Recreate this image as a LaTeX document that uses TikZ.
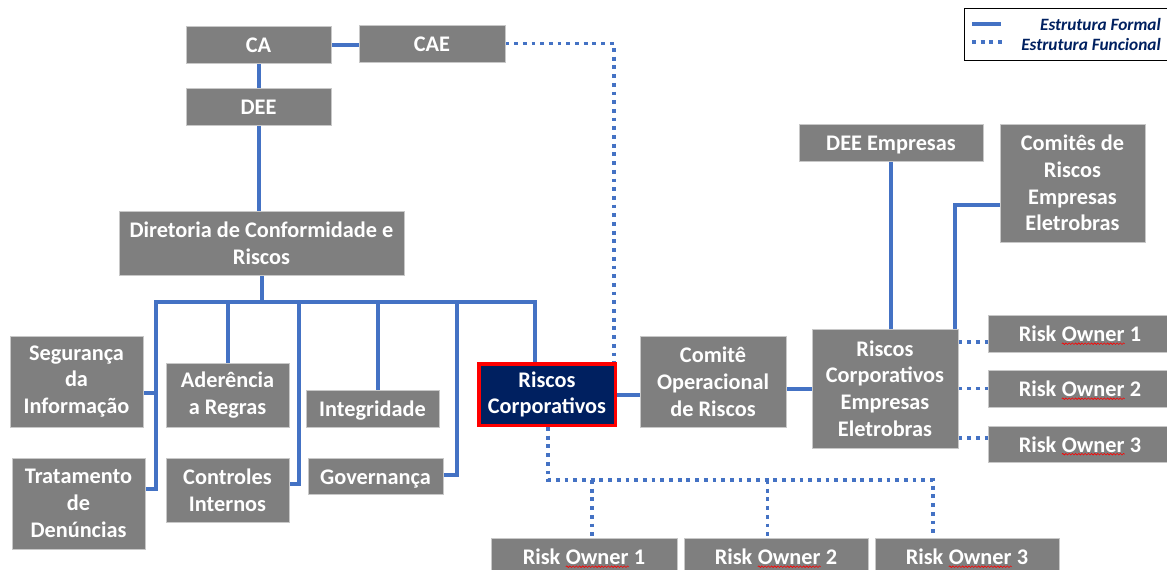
\documentclass[tikz,border=0pt]{standalone}
\usepackage{fontspec}
\setmainfont{Carlito}
\usetikzlibrary{decorations.pathmorphing,backgrounds}
\definecolor{lineblue}{HTML}{4472C4}
\definecolor{boxgray}{HTML}{7F7F7F}
\definecolor{boxedge}{HTML}{C8C8C8}
\definecolor{navy}{HTML}{002060}
\newcommand\squig[1]{\tikz[baseline=(sq.base)]{\node[inner sep=0pt,outer sep=0pt,draw=none,fill=none,minimum width=0pt,minimum height=0pt,text height=,text depth=] (sq) {#1};\draw[red,line width=0.6pt,decorate,decoration={snake,amplitude=0.8pt,segment length=3.2pt}] ([yshift=-2.2pt]sq.base west) -- ([yshift=-2.2pt]sq.base east);}}
\tikzset{
  orgbox/.style={fill=boxgray, draw=boxedge, line width=0.8pt, text=white,
    font=\fontsize{22.3}{26.8}\selectfont\bfseries, align=center, inner sep=1pt},
  oneline/.style={text height=16pt, text depth=0pt},
  hilite/.style={orgbox, fill=navy, draw=red, line width=3.5pt},
  formal/.style={draw=lineblue, line width=4pt},
  functional/.style={draw=lineblue, line width=3.5pt, dash pattern=on 3.8pt off 4.9pt},
  legtext/.style={text=navy, font=\fontsize{17.3}{20}\selectfont\bfseries\itshape, inner sep=0pt},
}
\begin{document}
\begin{tikzpicture}[x=1pt,y=-1pt]
\useasboundingbox (0,0) rectangle (1167,570);

% legend
\node[draw=black, line width=1pt, minimum width=206pt, minimum height=52pt, inner sep=0pt] (legend) at (1067,34) {};
\node[legtext, anchor=east] (lt1) at (1161,24) {Estrutura Formal};
\node[legtext, anchor=east] (lt2) at (1161,44) {Estrutura Funcional};
\coordinate (l1a) at (972,24);
\coordinate (l1b) at (1001,24);
\coordinate (l2a) at (972,42);
\coordinate (l2b) at (1004,42);
\draw[formal] (l1a) -- (l1b);
\draw[functional] (l2a) -- (l2b);

% boxes
\node[orgbox, oneline, minimum width=145pt, minimum height=37pt] (ca) at (258.5,44.5) {CA};
\node[orgbox, oneline, minimum width=146pt, minimum height=37pt] (cae) at (432,43.5) {CAE};
\node[orgbox, oneline, minimum width=145pt, minimum height=37pt] (dee) at (258.5,106.5) {DEE};
\node[orgbox, minimum width=285pt, minimum height=64pt] (dir) at (261.5,243) {Diretoria de Conformidade e\\Riscos};
\node[orgbox, minimum width=133pt, minimum height=91pt] (seg) at (76.5,381.5) {Segurança\\da\\Informação};
\node[orgbox, minimum width=133pt, minimum height=91pt] (trat) at (78.5,503.5) {Tratamento\\de\\Denúncias};
\node[orgbox, minimum width=123pt, minimum height=64pt] (ader) at (227.5,395) {Aderência\\a Regras};
\node[orgbox, minimum width=123pt, minimum height=64pt] (ctrl) at (227.5,490) {Controles\\Internos};
\node[orgbox, oneline, minimum width=133pt, minimum height=37pt] (integ) at (372.5,408.5) {Integridade};
\node[orgbox, oneline, minimum width=135pt, minimum height=36pt] (gov) at (375.5,476) {Governança};
\node[hilite, minimum width=136.5pt, minimum height=61.5pt] (rc) at (547,394.5) {Riscos\\Corporativos};
\node[orgbox, minimum width=146pt, minimum height=91pt] (com) at (713,381.5) {Comitê\\Operacional\\de Riscos};
\node[orgbox, minimum width=146pt, minimum height=119pt] (rcee) at (885,388.5) {Riscos\\Corporativos\\Empresas\\Eletrobras};
\node[orgbox, oneline, minimum width=184pt, minimum height=37pt] (deeemp) at (891,142.5) {DEE Empresas};
\node[orgbox, minimum width=145pt, minimum height=118pt] (comites) at (1072.5,183) {Comitês de\\Riscos\\Empresas\\Eletrobras};
\node[orgbox, oneline, minimum width=184pt, minimum height=37pt] (ror1) at (1080,333.5) {Risk \squig{Owner} 1};
\node[orgbox, oneline, minimum width=184pt, minimum height=37pt] (ror2) at (1080,388.5) {Risk \squig{Owner} 2};
\node[orgbox, oneline, minimum width=184pt, minimum height=36pt] (ror3) at (1080,444) {Risk \squig{Owner} 3};
\node[orgbox, oneline, minimum width=186pt, minimum height=37pt] (rob1) at (584,556.5) {Risk \squig{Owner} 1};
\node[orgbox, oneline, minimum width=184pt, minimum height=37pt] (rob2) at (776,556.5) {Risk \squig{Owner} 2};
\node[orgbox, oneline, minimum width=184pt, minimum height=37pt] (rob3) at (967,556.5) {Risk \squig{Owner} 3};

\coordinate (bus) at (261.5,302);
\coordinate (busL) at (156,302);
\coordinate (busC) at (298.5,302);
\coordinate (busG) at (457,302);
\coordinate (busR) at (535,302);
\coordinate (fbus) at (548,480);

\begin{scope}[on background layer]
% formal lines
\draw[formal] (ca.east) -- (ca.east -| cae.west);
\draw[formal] (ca.south) -- (dee.north);
\draw[formal] (dee.south) -- (dee.south |- dir.north);
\draw[formal] (dir.south) -- (bus);
\draw[formal] ([yshift=14.5pt]trat.east) -| (busL) -- (busR) -- (busR |- rc.north);
\draw[formal] ([yshift=-11pt]seg.east) -- ([yshift=-11pt]seg.east -| busL);
\draw[formal] (ader.north) -- (ader.north |- busL);
\draw[formal] ([yshift=6pt]ctrl.east) -| (busC);
\draw[formal] ([xshift=5.5pt]integ.north) -- ([xshift=5.5pt]integ.north |- busL);
\draw[formal] ([yshift=1pt]gov.east) -| (busG);
\draw[formal] (rc.east) -- (rc.east -| com.west);
\draw[formal] (com.east |- rcee.west) -- (rcee.west);
\draw[formal] (deeemp.south) -- (deeemp.south |- rcee.north);
\draw[formal] ([yshift=-22pt]comites.west) -| ([xshift=70pt]rcee.north);
% functional lines
\draw[functional] (cae.east) -| ([xshift=67pt]rc.north);
\draw[functional] ([xshift=1pt]rc.south) |- (fbus) -| ([xshift=-34pt]rob3.north);
\draw[functional] ([xshift=8pt]rob1.north |- fbus) -- ([xshift=8pt]rob1.north);
\draw[functional] ([xshift=-8.5pt]rob2.north |- fbus) -- ([xshift=-8.5pt]rob2.north);
\draw[functional] ([yshift=-8.5pt]ror1.west -| rcee.east) -- ([yshift=-8.5pt]ror1.west);
\draw[functional] (ror2.west -| rcee.east) -- (ror2.west);
\draw[functional] ([yshift=6pt]ror3.west -| rcee.east) -- ([yshift=6pt]ror3.west);
\end{scope}
\end{tikzpicture}
\end{document}
